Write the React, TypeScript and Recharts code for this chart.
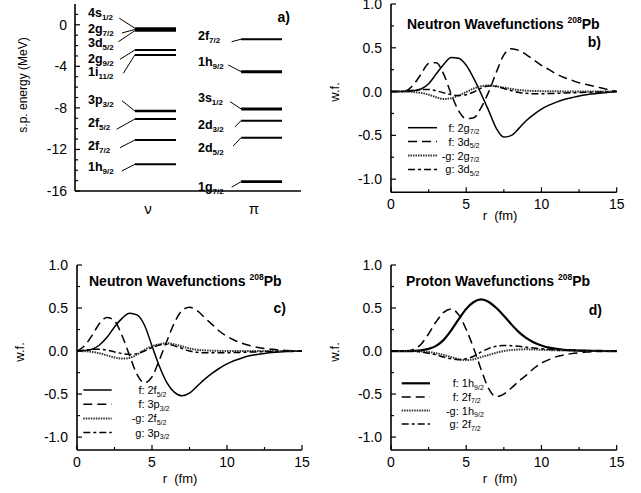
import React from 'react';
import { ComposedChart, LineChart, Line, XAxis, YAxis, ReferenceLine, Scatter } from 'recharts';

const FONT = '"Liberation Sans", Arial, Helvetica, sans-serif';

// ---------------- panel a: single-particle levels ----------------
const neutronOrbit = ['4s', '2g', '3d', '2g', '1i', '3p', '2f', '2f', '1h'];
const neutronJ = ['1/2', '7/2', '5/2', '9/2', '11/2', '3/2', '5/2', '7/2', '9/2'];
const neutronEnergy = [-0.33, -0.45, -0.57, -2.43, -2.9, -8.3, -9.07, -11.09, -13.43];
const protonOrbit = ['2f', '1h', '3s', '2d', '2d', '1g'];
const protonJ = ['7/2', '9/2', '1/2', '3/2', '5/2', '7/2'];
const protonEnergy = [-1.39, -4.51, -8.1, -9.23, -10.87, -15.1];
const energyTicks = [1, 0, -1, -2, -3, -4, -5, -6, -7, -8, -9, -10, -11, -12, -13, -14, -15, -16];

// layout of the level scheme (label and connector placement, in axis units)
const neutronLabelE = [1.16, -0.43, -1.75, -3.29, -4.54, -7.24, -9.42, -11.63, -13.65];
const neutronLinkE = [0.63, -0.79, -1.63, -3.32, -4.67, -7.3, -10.06, -11.83, -14.07];
const neutronLinkX = [19.6, 20.75, 19.2, 19.9, 21.4, 20.75, 18.4, 19.9, 20.75];
const neutronBarWidth = [2, 2, 2, 2, 2, 2.6, 2, 2, 2];
const protonLabelE = [-1.08, -3.61, -7.07, -9.64, -11.89, -15.64];
const protonLinkE = [-1.63, -3.87, -7.4, -9.81, -11.67, -15.64];
const protonLinkX = [69.3, 67.8, 68.6, 70.8, 70, 69.3];
const protonBarWidth = [2, 3, 3, 2, 2, 2.6];
const NU_BAR = [26.5, 44.7];
const PI_BAR = [73.5, 91.6];
const NU_LABEL_X = 5.75;
const PI_LABEL_X = 54.4;

// ---------------- wavefunction panels ----------------
const radius = [0, 0.5, 1, 1.5, 2, 2.5, 3, 3.5, 4, 4.5, 5, 5.5, 6, 6.5, 7, 7.5, 8, 8.5, 9, 9.5, 10, 10.5, 11, 11.5, 12, 12.5, 13, 13.5, 14, 14.5, 15];

// b) neutron 2g7/2 and 3d5/2
const bF2g72 = [0, 0, 0.002, 0.01, 0.03, 0.09, 0.2, 0.31, 0.39, 0.38, 0.3, 0.15, -0.03, -0.22, -0.42, -0.52, -0.5, -0.42, -0.33, -0.26, -0.2, -0.155, -0.12, -0.09, -0.07, -0.05, -0.035, -0.025, -0.015, -0.007, 0];
const bF3d52 = [0, 0, 0.01, 0.08, 0.2, 0.32, 0.33, 0.2, -0.03, -0.22, -0.31, -0.3, -0.18, 0.0, 0.22, 0.42, 0.49, 0.47, 0.42, 0.36, 0.3, 0.25, 0.2, 0.16, 0.13, 0.1, 0.08, 0.06, 0.04, 0.02, 0];
const bG2g72 = [0, 0, 0, -0.005, -0.015, -0.035, -0.065, -0.085, -0.075, -0.045, -0.005, 0.035, 0.062, 0.07, 0.06, 0.045, 0.03, 0.018, 0.01, 0.007, 0.005, 0.004, 0.003, 0.002, 0.002, 0.001, 0.001, 0, 0, 0, 0];
const bG3d52 = [0, 0, 0.005, 0.015, 0.025, 0.025, 0.01, -0.015, -0.035, -0.045, -0.035, -0.005, 0.04, 0.065, 0.06, 0.035, 0.01, -0.01, -0.02, -0.025, -0.025, -0.022, -0.02, -0.017, -0.014, -0.011, -0.008, -0.006, -0.004, -0.002, 0];

// c) neutron 2f5/2 and 3p3/2
const cF2f52 = [0, 0.005, 0.02, 0.07, 0.16, 0.28, 0.38, 0.44, 0.42, 0.3, 0.06, -0.18, -0.37, -0.48, -0.52, -0.49, -0.41, -0.33, -0.26, -0.2, -0.15, -0.11, -0.08, -0.055, -0.04, -0.028, -0.018, -0.011, -0.006, -0.003, 0];
const cF3p32 = [0, 0.06, 0.18, 0.32, 0.39, 0.35, 0.18, -0.05, -0.27, -0.37, -0.3, -0.1, 0.12, 0.33, 0.47, 0.51, 0.47, 0.39, 0.31, 0.23, 0.17, 0.125, 0.09, 0.065, 0.045, 0.03, 0.02, 0.012, 0.007, 0.003, 0];
const cG2f52 = [0, -0.002, -0.01, -0.025, -0.05, -0.075, -0.088, -0.08, -0.04, 0.015, 0.055, 0.08, 0.09, 0.078, 0.055, 0.03, 0.015, 0.008, 0.004, 0.002, 0.001, 0, 0, 0, 0, 0, 0, 0, 0, 0, 0];
const cG3p32 = [0, 0.01, 0.02, 0.02, 0.01, -0.01, -0.03, -0.04, -0.03, 0, 0.04, 0.07, 0.08, 0.06, 0.03, 0, -0.015, -0.02, -0.02, -0.02, -0.02, -0.017, -0.015, -0.012, -0.01, -0.007, -0.005, -0.003, -0.002, -0.001, 0];

// d) proton 1h9/2 and 2f7/2
const dF1h92 = [0, 0, 0, 0.002, 0.008, 0.025, 0.06, 0.13, 0.24, 0.37, 0.49, 0.57, 0.6, 0.57, 0.5, 0.41, 0.31, 0.22, 0.15, 0.1, 0.065, 0.04, 0.025, 0.015, 0.01, 0.006, 0.004, 0.002, 0.001, 0, 0];
const dF2f72 = [0, 0, 0.003, 0.02, 0.08, 0.2, 0.34, 0.45, 0.49, 0.42, 0.25, 0.03, -0.22, -0.44, -0.53, -0.5, -0.43, -0.35, -0.28, -0.2, -0.14, -0.1, -0.065, -0.045, -0.03, -0.02, -0.012, -0.007, -0.004, -0.002, 0];
const dG1h92 = [0, 0, 0, -0.002, -0.005, -0.012, -0.025, -0.045, -0.07, -0.095, -0.105, -0.095, -0.07, -0.045, -0.02, 0, 0.012, 0.018, 0.02, 0.018, 0.015, 0.011, 0.008, 0.006, 0.004, 0.003, 0.002, 0.001, 0.001, 0, 0];
const dG2f72 = [0, 0, 0, -0.003, -0.01, -0.025, -0.045, -0.07, -0.09, -0.1, -0.09, -0.06, -0.01, 0.03, 0.055, 0.065, 0.062, 0.055, 0.045, 0.035, 0.027, 0.02, 0.014, 0.01, 0.007, 0.005, 0.003, 0.002, 0.001, 0, 0];

const rTicks = [0, 2.5, 5, 7.5, 10, 12.5, 15];
const wfTicks = [-1, -0.75, -0.5, -0.25, 0, 0.25, 0.5, 0.75, 1];

// ---------------- styles ----------------
const sSolid = { stroke: '#000', strokeWidth: 1.5 };
const sSolidThick = { stroke: '#000', strokeWidth: 2.2 };
const sDash = { stroke: '#000', strokeWidth: 1.5, strokeDasharray: '9 5' };
const sDot = { stroke: '#333', strokeWidth: 2, strokeDasharray: '1.5 1' };
const sDashDot = { stroke: '#000', strokeWidth: 1.5, strokeDasharray: '7 3 3 3' };
const frame = { stroke: '#000', strokeWidth: 1.6 };

type Side = 'left' | 'right' | 'top' | 'bottom';
function makeTick(side: Side, step: number, fmt: ((v: number) => string) | null, gap: number) {
  return (props: any) => {
    const { x, y, payload } = props;
    const v = Number(payload.value);
    const q = v / step;
    const major = Math.abs(q - Math.round(q)) < 1e-6;
    const len = major ? 5 : 3;
    let x2 = x;
    let y2 = y;
    if (side === 'left') x2 = x + len;
    if (side === 'right') x2 = x - len;
    if (side === 'bottom') y2 = y - len;
    if (side === 'top') y2 = y + len;
    let label: any = null;
    if (fmt && major) {
      if (side === 'left')
        label = (
          <text x={x - gap} y={y} dy="0.36em" textAnchor="end" fontFamily={FONT} fontSize={14} fill="#000">
            {fmt(v)}
          </text>
        );
      if (side === 'bottom')
        label = (
          <text x={x} y={y + gap} dy="0.36em" textAnchor="middle" fontFamily={FONT} fontSize={14} fill="#000">
            {fmt(v)}
          </text>
        );
    }
    return (
      <g>
        <line x1={x} y1={y} x2={x2} y2={y2} stroke="#000" strokeWidth={1.2} />
        {label}
      </g>
    );
  };
}

type Plot = { x: number; y: number; w: number; h: number };
type Series = { key: string; values: number[]; style: any; prefix: string; orbit: string; j: string };

function buildRows(series: Series[]) {
  return radius.map((r, i) => {
    const row: any = { r };
    series.forEach((s) => {
      row[s.key] = s.values[i];
    });
    return row;
  });
}

function WavePanel({ plot, series }: { plot: Plot; series: Series[] }) {
  const mt = Math.min(8, plot.y);
  const ml = 60;
  const mr = 8;
  const xb = 26;
  const data = buildRows(series);
  return (
    <div style={{ position: 'absolute', left: plot.x - ml, top: plot.y - mt }}>
      <LineChart width={plot.w + ml + mr} height={plot.h + mt + xb} data={data} margin={{ top: mt, right: mr, bottom: 0, left: 0 }}>
        <XAxis dataKey="r" type="number" domain={[0, 15]} ticks={rTicks} interval={0} height={xb} tickSize={0} tickMargin={0} tickLine={false} axisLine={frame} tick={makeTick('bottom', 5, (v) => String(v), 12)} />
        <XAxis xAxisId="top" orientation="top" dataKey="r" type="number" domain={[0, 15]} ticks={rTicks} interval={0} height={0} tickSize={0} tickMargin={0} tickLine={false} axisLine={frame} tick={makeTick('top', 5, null, 0)} />
        <YAxis type="number" domain={[-1.15, 1]} ticks={wfTicks} interval={0} width={ml} tickSize={0} tickMargin={0} tickLine={false} axisLine={frame} tick={makeTick('left', 0.5, (v) => v.toFixed(1), 9)} />
        <YAxis yAxisId="right" orientation="right" type="number" domain={[-1.15, 1]} ticks={wfTicks} interval={0} width={0} tickSize={0} tickMargin={0} tickLine={false} axisLine={frame} tick={makeTick('right', 0.5, null, 0)} />
        {series.map((s) => (
          <Line key={s.key} dataKey={s.key} type="monotone" dot={false} activeDot={false} isAnimationActive={false} {...s.style} />
        ))}
      </LineChart>
    </div>
  );
}

function levelLabel(p: any) {
  return (
    <text x={p.cx} y={p.cy + 4} fontFamily={FONT} fontWeight="bold" fontSize={12.5} fill="#000">
      <tspan>{p.payload.orbit}</tspan>
      <tspan fontSize={8} dy={3}>{p.payload.j}</tspan>
    </text>
  );
}

function LevelPanel() {
  const plot: Plot = { x: 75, y: 4, w: 226, h: 187 };
  const mt = 4;
  const ml = 60;
  const mr = 8;
  const xb = 20;
  const nuLabels = neutronOrbit.map((o, i) => ({ x: NU_LABEL_X, y: neutronLabelE[i], orbit: o, j: neutronJ[i] }));
  const piLabels = protonOrbit.map((o, i) => ({ x: PI_LABEL_X, y: protonLabelE[i], orbit: o, j: protonJ[i] }));
  return (
    <div style={{ position: 'absolute', left: plot.x - ml, top: plot.y - mt }}>
      <ComposedChart width={plot.w + ml + mr} height={plot.h + mt + xb} margin={{ top: mt, right: mr, bottom: 0, left: 0 }}>
        <XAxis dataKey="x" type="number" domain={[0, 100]} height={xb} tick={false} tickLine={false} axisLine={frame} />
        <XAxis xAxisId="top" orientation="top" dataKey="x" type="number" domain={[0, 100]} height={0} tick={false} tickLine={false} axisLine={frame} />
        <YAxis dataKey="y" type="number" domain={[-16, 2]} ticks={energyTicks} interval={0} width={ml} tickSize={0} tickMargin={0} tickLine={false} axisLine={frame} tick={makeTick('left', 4, (v) => String(v), 8)} />
        <YAxis yAxisId="right" orientation="right" type="number" domain={[-16, 2]} ticks={energyTicks} interval={0} width={0} tickSize={0} tickMargin={0} tickLine={false} axisLine={frame} tick={makeTick('right', 4, null, 0)} />
        {neutronEnergy.map((e, i) => (
          <ReferenceLine key={'nb' + i} segment={[{ x: NU_BAR[0], y: e }, { x: NU_BAR[1], y: e }]} stroke="#000" strokeWidth={neutronBarWidth[i]} />
        ))}
        {neutronEnergy.map((e, i) => (
          <ReferenceLine key={'nl' + i} segment={[{ x: neutronLinkX[i], y: neutronLinkE[i] }, { x: NU_BAR[0], y: e }]} stroke="#000" strokeWidth={1} />
        ))}
        {protonEnergy.map((e, i) => (
          <ReferenceLine key={'pb' + i} segment={[{ x: PI_BAR[0], y: e }, { x: PI_BAR[1], y: e }]} stroke="#000" strokeWidth={protonBarWidth[i]} />
        ))}
        {protonEnergy.map((e, i) => (
          <ReferenceLine key={'pl' + i} segment={[{ x: protonLinkX[i], y: protonLinkE[i] }, { x: PI_BAR[0], y: e }]} stroke="#000" strokeWidth={1} />
        ))}
        <Scatter data={nuLabels} dataKey="y" shape={levelLabel} isAnimationActive={false} />
        <Scatter data={piLabels} dataKey="y" shape={levelLabel} isAnimationActive={false} />
      </ComposedChart>
    </div>
  );
}

const panelBSeries: Series[] = [
  { key: 'f1', values: bF2g72, style: sSolid, prefix: 'f:', orbit: '2g', j: '7/2' },
  { key: 'f2', values: bF3d52, style: sDash, prefix: 'f:', orbit: '3d', j: '5/2' },
  { key: 'g1', values: bG2g72, style: sDot, prefix: '-g:', orbit: '2g', j: '7/2' },
  { key: 'g2', values: bG3d52, style: sDashDot, prefix: 'g:', orbit: '3d', j: '5/2' },
];
const panelCSeries: Series[] = [
  { key: 'f1', values: cF2f52, style: sSolid, prefix: 'f:', orbit: '2f', j: '5/2' },
  { key: 'f2', values: cF3p32, style: sDash, prefix: 'f:', orbit: '3p', j: '3/2' },
  { key: 'g1', values: cG2f52, style: sDot, prefix: '-g:', orbit: '2f', j: '5/2' },
  { key: 'g2', values: cG3p32, style: sDashDot, prefix: 'g:', orbit: '3p', j: '3/2' },
];
const panelDSeries: Series[] = [
  { key: 'f1', values: dF1h92, style: sSolidThick, prefix: 'f:', orbit: '1h', j: '9/2' },
  { key: 'f2', values: dF2f72, style: sDash, prefix: 'f:', orbit: '2f', j: '7/2' },
  { key: 'g1', values: dG1h92, style: sDot, prefix: '-g:', orbit: '1h', j: '9/2' },
  { key: 'g2', values: dG2f72, style: sDashDot, prefix: 'g:', orbit: '2f', j: '7/2' },
];

function LegendBlock({ series, lx1, lx2, colon, y0, step }: { series: Series[]; lx1: number; lx2: number; colon: number; y0: number; step: number }) {
  return (
    <g>
      {series.map((s, i) => {
        const y = y0 + i * step;
        return (
          <g key={s.key}>
            <line x1={lx1} y1={y} x2={lx2} y2={y} {...s.style} />
            <text x={colon} y={y + 4} textAnchor="end" fontFamily={FONT} fontSize={11} fill="#000">{s.prefix}</text>
            <text x={colon + 3} y={y + 4} fontFamily={FONT} fontSize={11} fill="#000">
              <tspan>{s.orbit}</tspan>
              <tspan fontSize={7} dy={2.5}>{s.j}</tspan>
            </text>
          </g>
        );
      })}
    </g>
  );
}

function Title({ x, y, text }: { x: number; y: number; text: string }) {
  return (
    <text x={x} y={y} fontFamily={FONT} fontWeight="bold" fontSize={14} fill="#000">
      <tspan>{text + ' '}</tspan>
      <tspan fontSize={8.5} dy={-6}>208</tspan>
      <tspan dy={6}>Pb</tspan>
    </text>
  );
}

function Overlay() {
  const t = { fontFamily: FONT, fill: '#000' } as any;
  return (
    <svg width={641} height={493} style={{ position: 'absolute', left: 0, top: 0, pointerEvents: 'none' }}>
      {/* panel a */}
      <text {...t} fontSize={12} textAnchor="middle" transform="translate(27,85) rotate(-90)">s.p. energy (MeV)</text>
      <text {...t} fontSize={14} fontWeight="bold" textAnchor="end" x={290} y={22}>a)</text>
      <text {...t} fontSize={15} textAnchor="middle" x={148} y={214}>ν</text>
      <text {...t} fontSize={15} textAnchor="middle" x={254} y={214}>π</text>
      {/* panel b */}
      <Title x={407} y={29} text="Neutron Wavefunctions" />
      <text {...t} fontSize={14} fontWeight="bold" textAnchor="end" x={601} y={47}>b)</text>
      <text {...t} fontSize={13} textAnchor="middle" transform="translate(339,92) rotate(-90)">w.f.</text>
      <text {...t} fontSize={13} textAnchor="middle" x={500} y={220}>{'r\u00a0\u00a0(fm)'}</text>
      <LegendBlock series={panelBSeries} lx1={408} lx2={437} colon={454.5} y0={127.7} step={13.9} />
      {/* panel c */}
      <Title x={89} y={286} text="Neutron Wavefunctions" />
      <text {...t} fontSize={14} fontWeight="bold" textAnchor="end" x={286} y={313}>c)</text>
      <text {...t} fontSize={13} textAnchor="middle" transform="translate(24,352) rotate(-90)">w.f.</text>
      <text {...t} fontSize={13} textAnchor="middle" x={180} y={483}>{'r\u00a0\u00a0(fm)'}</text>
      <LegendBlock series={panelCSeries} lx1={83.3} lx2={111.7} colon={144.5} y0={390} step={14.2} />
      {/* panel d */}
      <Title x={406} y={286} text="Proton Wavefunctions" />
      <text {...t} fontSize={14} fontWeight="bold" textAnchor="end" x={602} y={315}>d)</text>
      <text {...t} fontSize={13} textAnchor="middle" transform="translate(339,352) rotate(-90)">w.f.</text>
      <text {...t} fontSize={13} textAnchor="middle" x={500} y={483}>{'r\u00a0\u00a0(fm)'}</text>
      <LegendBlock series={panelDSeries} lx1={401.7} lx2={430} colon={458.8} y0={383.3} step={13.6} />
    </svg>
  );
}

export default function App() {
  return (
    <div style={{ position: 'absolute', left: 0, top: 0, width: 641, height: 493, background: '#fff', overflow: 'hidden' }}>
      <LevelPanel />
      <WavePanel plot={{ x: 391, y: 4, w: 225.7, h: 188.3 }} series={panelBSeries} />
      <WavePanel plot={{ x: 76.7, y: 265, w: 225, h: 185 }} series={panelCSeries} />
      <WavePanel plot={{ x: 391, y: 265, w: 225.7, h: 185 }} series={panelDSeries} />
      <Overlay />
    </div>
  );
}
